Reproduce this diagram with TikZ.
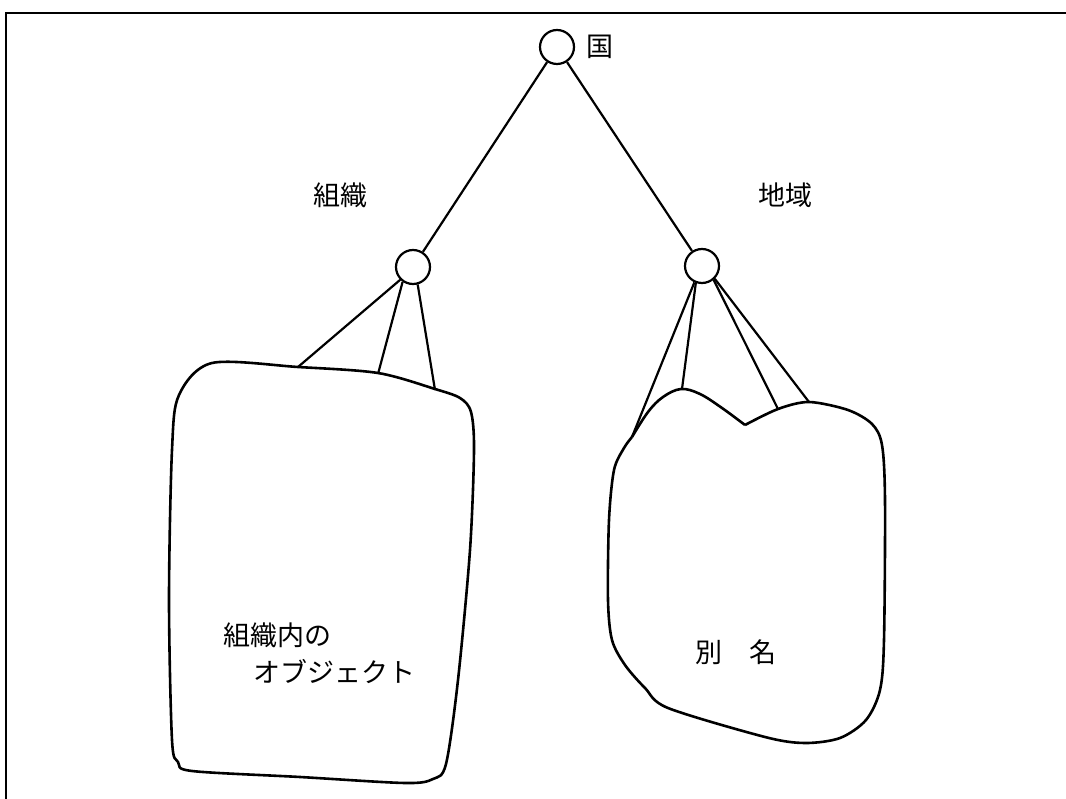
\documentclass[tikz,border=0pt]{standalone}
\usepackage{fontspec}
\newfontfamily\jp{Noto Sans CJK JP}
\usetikzlibrary{positioning}

\begin{document}
\begin{tikzpicture}[x=1pt, y=-1pt, line width=2.2pt,
    dot/.style={draw, circle, minimum size=34pt, inner sep=0pt},
    lbl/.style={font=\jp\fontsize{27}{32}\selectfont, inner sep=0pt},
    blob/.style={line width=2.6pt, line join=round}]
\useasboundingbox (0,0) rectangle (1066,799);
\draw [line width=2.6pt] (6,799) -- (6,13) -- (1066,13);
\node [dot] (root) at (557,47) {};
\node [dot] (org) at (413,267) {};
\node [dot] (area) at (702,266) {};
\node [lbl] (rootlbl) at (600,47) {国};
\node [lbl] (orglbl) at (340,195) {組織};
\node [lbl] (arealbl) at (785,195) {地域};
\draw (root) -- (org);
\draw (root) -- (area);
% attach points on the blobs
\coordinate (o1) at (298,367);
\coordinate (o2) at (378,374);
\coordinate (o3) at (435,390);
\coordinate (a1) at (632,437);
\coordinate (a2) at (682,389);
\coordinate (a3) at (778,409);
\coordinate (a4) at (809,402);
\draw (org.225) -- (o1);
\draw (org.235) -- (o2);
\draw (org.285) -- (o3);
\draw (area.245) -- (a1);
\draw (area.250) -- (a2);
\draw (area.310) -- (a3);
\draw (area.315) -- (a4);
% blobs
\draw [blob] plot [smooth cycle, tension=0.5] coordinates{(212,363) (298,367) (378,373) (435,389) (460,398) (471,412) (474,450) (470,550) (458,680) (446,764) (433,779) (405,783) (300,777) (192,771) (178,762) (172,740) (169,600) (172,450) (179,395)};
\draw [blob] plot [smooth, tension=0.6] coordinates{(632,437) (648,412) (663,397) (681,389) (700,394) (722,408) (745,425)};
\draw [blob] plot [smooth, tension=0.5] coordinates{(745,425) (778,409) (809,402) (848,410) (872,424) (882,445) (885,500) (884,640) (880,690) (866,720) (840,738) (805,743) (765,737) (668,708) (645,688) (625,665) (612,640) (608,600) (609,520) (614,470) (624,448) (632,437)};
\node [lbl, anchor=west] (inner) at (222,635) {組織内の};
\node [lbl, anchor=west] (objs) at (252,672) {オブジェクト};
\node [lbl] (alias) at (736,652) {別　名};
\end{tikzpicture}
\end{document}
